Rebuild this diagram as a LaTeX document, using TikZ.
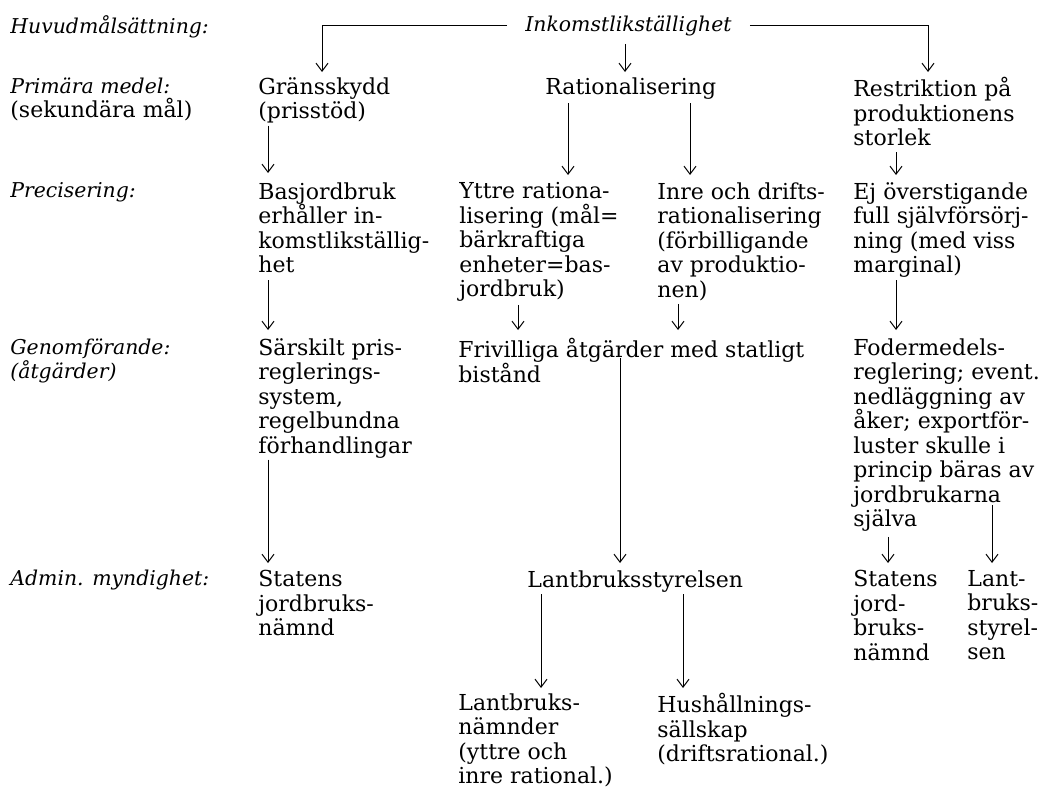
\documentclass[tikz,border=0pt]{standalone}
\usepackage{fontspec}
\setmainfont{DejaVu Serif}
\usetikzlibrary{arrows.meta}

\begin{document}
\begin{tikzpicture}[
	x=0.5pt, y=-0.5pt,
	etikett/.style={
		anchor=north west,
		inner sep=0pt,
		align=left,
		font=\itshape\fontsize{10.2}{12.25}\selectfont
	},
	ruta/.style={
		anchor=north west,
		inner sep=0pt,
		align=left,
		font=\fontsize{11}{12.25}\selectfont
	},
	pil/.style={
		-{Straight Barb[length=4pt,width=6pt]},
		line width=0.5pt
	},
]
\useasboundingbox[fill=white] (0,0) rectangle (1044,787);

% nivaer till vanster
\node[etikett] (huvud) at (10,15) {Huvudmålsättning:};
\node[ruta] (primar) at (10,77) {{\itshape\fontsize{10.2}{12.25}\selectfont Primära medel:}\\(sekundära mål)};
\node[etikett] (precis) at (10,182) {Precisering:};
\node[etikett] (genomf) at (10,338) {Genomförande:\\(åtgärder)};
\node[etikett] (admin) at (10,570) {Admin. myndighet:};

\node[etikett] (inkomst) at (525,15) {Inkomstlikställighet};

\node[ruta] (grans) at (258,77) {Gränsskydd\\(prisstöd)};
\node[ruta] (rational) at (545,77) {Rationalisering};
\node[ruta] (restr) at (853,77) {Restriktion på\\produktionens\\storlek};

\node[ruta] (basj) at (258,182) {Basjordbruk\\erhåller in-\\komstlikställig-\\het};
\node[ruta] (yttre) at (459,182) {Yttre rationa-\\lisering (mål=\\bärkraftiga\\enheter=bas-\\jordbruk)};
\node[ruta] (inre) at (657,182) {Inre och drifts-\\rationalisering\\(förbilligande\\av produktio-\\nen)};
\node[ruta] (ejover) at (853,182) {Ej överstigande\\full självförsörj-\\ning (med viss\\marginal)};

\node[ruta] (sarsk) at (258,338) {Särskilt pris-\\reglerings-\\system,\\regelbundna\\förhandlingar};
\node[ruta] (friv) at (458,338) {Frivilliga åtgärder med statligt\\bistånd};
\node[ruta] (foder) at (853,338) {Fodermedels-\\reglering; event.\\nedläggning av\\åker; exportför-\\luster skulle i\\princip bäras av\\jordbrukarna\\själva};

\node[ruta] (statens) at (258,570) {Statens\\jordbruks-\\nämnd};
\node[ruta] (lbs) at (527,570) {Lantbruksstyrelsen};
\node[ruta] (statens2) at (853,570) {Statens\\jord-\\bruks-\\nämnd};
\node[ruta] (lant) at (967,570) {Lant-\\bruks-\\styrel-\\sen};

\node[ruta] (lbn) at (458,693) {Lantbruks-\\nämnder\\(yttre och\\inre rational.)};
\node[ruta] (hush) at (657,693) {Hushållnings-\\sällskap\\(driftsrational.)};

\draw[pil] ([xshift=-9pt]inkomst.west) -| ([xshift=32pt,yshift=2.5pt]grans.north west);
\draw[pil] ([xshift=50pt,yshift=-4pt]inkomst.south west) -- ([xshift=40pt,yshift=2.5pt]rational.north west);
\draw[pil] ([xshift=9pt]inkomst.east) -| ([xshift=37.5pt,yshift=2.5pt]restr.north west);

\draw[pil] ([xshift=11.5pt,yshift=-2pt]rational.south west) -- ([xshift=54.5pt,yshift=3.5pt]yttre.north west);
\draw[pil] ([xshift=72.5pt,yshift=-2pt]rational.south west) -- ([xshift=16.5pt,yshift=3.5pt]inre.north west);
\draw[pil] ([xshift=5pt,yshift=-1pt]grans.south west) -- ([xshift=5pt,yshift=4.5pt]basj.north west);
\draw[pil] ([xshift=21.5pt,yshift=-3pt]restr.south west) -- ([xshift=21.5pt,yshift=3.5pt]ejover.north west);

\draw[pil] ([xshift=5pt,yshift=-3.5pt]basj.south west) -- ([xshift=5pt,yshift=4pt]sarsk.north west);
\draw[pil] ([xshift=29.5pt,yshift=-1.5pt]yttre.south west) -- ([xshift=30pt,yshift=4pt]friv.north west);
\draw[pil] ([xshift=10.5pt,yshift=-1.5pt]inre.south west) -- ([xshift=110pt,yshift=4pt]friv.north west);
\draw[pil] ([xshift=21.5pt,yshift=-1pt]ejover.south west) -- ([xshift=21.5pt,yshift=4pt]foder.north west);

\draw[pil] ([xshift=5pt,yshift=-0.5pt]sarsk.south west) -- ([xshift=5pt,yshift=3.5pt]statens.north west);
\draw[pil] ([xshift=81pt,yshift=-10pt]friv.north west) -- ([xshift=46.5pt,yshift=3.5pt]lbs.north west);
\draw[pil] ([xshift=17.5pt,yshift=-2.5pt]foder.south west) -- ([xshift=17.5pt,yshift=3.5pt]statens2.north west);
\draw[pil] ([xshift=69.5pt,yshift=-83.5pt]foder.north west) -- ([xshift=12.5pt,yshift=3.5pt]lant.north west);

\draw[pil] ([xshift=7pt,yshift=-1pt]lbs.south west) -- ([xshift=41.5pt,yshift=2.5pt]lbn.north west);
\draw[pil] ([xshift=78pt,yshift=-1pt]lbs.south west) -- ([xshift=13pt,yshift=2.5pt]hush.north west);

\end{tikzpicture}
\end{document}
